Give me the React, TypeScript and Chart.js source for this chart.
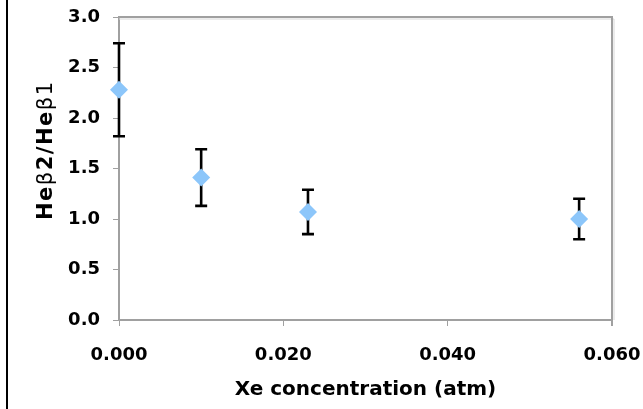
import React, { useEffect, useRef } from "react";
import { Chart, registerables } from "chart.js";

Chart.register(...registerables);

const xeConcentration = [0.0, 0.01, 0.023, 0.056];
const ratio = [2.28, 1.41, 1.07, 1.0];
const errorPlus = [0.46, 0.28, 0.22, 0.2];
const errorMinus = [0.46, 0.28, 0.22, 0.2];
const xTitle = "Xe concentration (atm)";
const yTitleParts: [string, boolean][] = [
  ["He", true],
  ["β", false],
  ["2/He", true],
  ["β1", false],
];
const yTitle = yTitleParts.map((p) => p[0]).join("");

const FONT = "'DejaVu Sans', Verdana, sans-serif";

const errorBarPlugin = {
  id: "errorBars",
  beforeDatasetsDraw(chart: any) {
    const ctx = chart.ctx;
    const xs = chart.scales.x;
    const ys = chart.scales.y;
    ctx.save();
    ctx.strokeStyle = "#000";
    ctx.lineWidth = 2.6;
    ctx.lineCap = "butt";
    const cap = 6;
    xeConcentration.forEach((xv, i) => {
      const px = xs.getPixelForValue(xv);
      const top = ys.getPixelForValue(ratio[i] + errorPlus[i]);
      const bot = ys.getPixelForValue(ratio[i] - errorMinus[i]);
      ctx.beginPath();
      ctx.moveTo(px, top);
      ctx.lineTo(px, bot);
      ctx.moveTo(px - cap, top);
      ctx.lineTo(px + cap, top);
      ctx.moveTo(px - cap, bot);
      ctx.lineTo(px + cap, bot);
      ctx.stroke();
    });
    ctx.restore();
  },
};

const framePlugin = {
  id: "frame",
  beforeDraw(chart: any) {
    const ctx = chart.ctx;
    ctx.save();
    ctx.fillStyle = "#fff";
    ctx.fillRect(0, 0, chart.width, chart.height);
    ctx.fillStyle = "#000";
    ctx.fillRect(6, 0, 2, chart.height);
    ctx.restore();
  },
  afterDraw(chart: any) {
    const ctx = chart.ctx;
    ctx.save();
    ctx.translate(47, 151);
    ctx.rotate(-Math.PI / 2);
    ctx.fillStyle = "#000";
    ctx.textAlign = "left";
    ctx.textBaseline = "middle";
    const gap = 1.5;
    const fonts = yTitleParts.map(([, b]) => (b ? `bold 21px ${FONT}` : `21px ${FONT}`));
    const widths = yTitleParts.map(([t], i) => {
      ctx.font = fonts[i];
      return ctx.measureText(t).width + gap * (t.length - 1);
    });
    const total = widths.reduce((a, b) => a + b, 0) + gap * (yTitleParts.length - 1);
    let x = -total / 2;
    yTitleParts.forEach(([t], i) => {
      ctx.font = fonts[i];
      for (const ch of Array.from(t)) {
        ctx.fillText(ch, x, 0);
        x += ctx.measureText(ch).width + gap;
      }
    });
    ctx.restore();
  },
  afterDatasetsDraw(chart: any) {
    const { left, right, top, bottom } = chart.chartArea;
    const ctx = chart.ctx;
    ctx.save();
    ctx.strokeStyle = "#d8d8d8";
    ctx.lineWidth = 1;
    ctx.beginPath();
    ctx.moveTo(left, top + 2);
    ctx.lineTo(right + 2, top + 2);
    ctx.lineTo(right + 2, bottom);
    ctx.stroke();
    ctx.strokeStyle = "#a0a0a0";
    ctx.lineWidth = 2;
    ctx.beginPath();
    ctx.moveTo(left, top);
    ctx.lineTo(right, top);
    ctx.lineTo(right, bottom + 6);
    ctx.stroke();
    ctx.restore();
  },
};

export default function App() {
  const ref = useRef<HTMLCanvasElement>(null);
  useEffect(() => {
    document.body.style.margin = "0";
    const chart = new Chart(ref.current!, {
      type: "scatter",
      data: {
        datasets: [
          {
            data: xeConcentration.map((x, i) => ({ x, y: ratio[i] })),
            pointStyle: "rectRot",
            pointRadius: 9,
            pointHoverRadius: 9,
            backgroundColor: "#8cc6fa",
            borderColor: "#8cc6fa",
            borderWidth: 0,
            clip: false,
          },
        ],
      },
      options: {
        responsive: false,
        animation: false,
        layout: { padding: { left: 0, top: 17, right: 31, bottom: 0 } },
        plugins: {
          legend: { display: false },
          tooltip: { enabled: false },
        },
        scales: {
          x: {
            type: "linear",
            min: 0,
            max: 0.06,
            afterFit(s: any) {
              s.height = 89;
              s.paddingLeft = 0;
              s.paddingRight = 0;
            },
            ticks: {
              stepSize: 0.02,
              padding: 19,
              color: "#000",
              font: { family: FONT, size: 18, weight: "bold" },
              callback: (v: any) => Number(v).toFixed(3),
            },
            grid: {
              drawOnChartArea: false,
              drawTicks: true,
              tickLength: 6,
              color: "#a0a0a0",
              lineWidth: 1,
            },
            border: { color: "#a0a0a0", width: 2 },
            title: {
              display: true,
              text: xTitle,
              color: "#000",
              font: { family: FONT, size: 20, weight: "bold" },
              padding: { top: 0, bottom: 7 },
            },
          },
          y: {
            min: 0,
            max: 3,
            afterFit(s: any) {
              s.width = 119;
              s.paddingTop = 0;
              s.paddingBottom = 0;
            },
            ticks: {
              stepSize: 0.5,
              padding: 13,
              color: "#000",
              font: { family: FONT, size: 18, weight: "bold" },
              callback: (v: any) => Number(v).toFixed(1),
            },
            grid: {
              drawOnChartArea: false,
              drawTicks: true,
              tickLength: 6,
              color: "#a0a0a0",
              lineWidth: 1,
            },
            border: { color: "#a0a0a0", width: 2 },
            title: { display: false },
          },
        },
      },
      plugins: [framePlugin, errorBarPlugin],
    } as any);
    return () => chart.destroy();
  }, []);
  return (
    <div style={{ width: 643, height: 409 }}>
      <canvas
        ref={ref}
        width={643}
        height={409}
        style={{ display: "block" }}
        aria-label={`${yTitle} vs ${xTitle}`}
      />
    </div>
  );
}
